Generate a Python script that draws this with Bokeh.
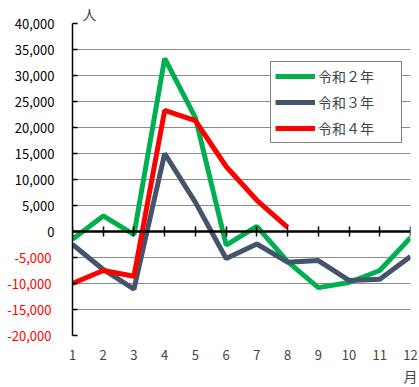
from bokeh.plotting import figure
from bokeh.models import (LinearAxis, FixedTicker, Range1d, Legend, LegendItem,
                          Title, CustomJSTickFormatter)
from bokeh.embed import file_html
from bokeh.resources import INLINE

months = [1, 2, 3, 4, 5, 6, 7, 8, 9, 10, 11, 12]
r2 = [-1500, 3000, -600, 33300, 21900, -2600, 1000, -5800, -10800, -9800, -7500, -1200]
r3 = [-2500, -7300, -11100, 15000, 5600, -5200, -2400, -5900, -5600, -9400, -9200, -4800]
months_r4 = [1, 2, 3, 4, 5, 6, 7, 8]
r4 = [-10000, -7500, -8600, 23300, 21300, 12500, 6000, 800]
series_names = ["令和２年", "令和３年", "令和４年"]
colors = ["#00B050", "#44546A", "#FF0000"]
y_ticks = [-20000, -15000, -10000, -5000, 0, 5000, 10000, 15000, 20000, 25000, 30000, 35000, 40000]
neg_ticks = [-20000, -15000, -10000, -5000]
grid_ticks = [-15000, -10000, -5000, 5000, 10000, 15000, 20000, 25000, 30000, 35000]

FONT = "Noto Sans CJK JP"
FS = "13px"
fmt = "return tick.toLocaleString('en-US');"

p = figure(width=419, height=387, output_backend="svg", toolbar_location=None,
           x_range=Range1d(1, 12), y_range=Range1d(-20000, 40000),
           min_border_left=72, min_border_right=9, min_border_top=23,
           min_border_bottom=52, outline_line_color=None)

# y axis: ticks for all, black labels for non-negative values
p.yaxis.ticker = FixedTicker(ticks=y_ticks)
p.yaxis.formatter = CustomJSTickFormatter(
    code="return tick < 0 ? '' : tick.toLocaleString('en-US');")
p.yaxis.major_tick_in = 5
p.yaxis.major_tick_out = 0
p.yaxis.minor_tick_line_color = None
p.yaxis.axis_line_color = "black"
p.yaxis.axis_line_width = 1.5
p.yaxis.major_tick_line_width = 1.5
p.yaxis.major_label_text_font = FONT
p.yaxis.major_label_text_font_size = FS
p.yaxis.major_label_text_color = "black"
p.yaxis.major_label_standoff = 18

# red labels for negative values (outer axis pulled back over the first one)
neg_axis = LinearAxis(ticker=FixedTicker(ticks=neg_ticks),
                      formatter=CustomJSTickFormatter(code=fmt),
                      axis_line_color=None, major_tick_line_color=None,
                      minor_tick_line_color=None,
                      major_tick_in=0, major_tick_out=0,
                      major_label_standoff=-40,
                      major_label_text_font=FONT, major_label_text_font_size=FS,
                      major_label_text_color="#FF0000")
p.add_layout(neg_axis, "left")

# x axis: labels only
p.xaxis.ticker = FixedTicker(ticks=months)
p.xaxis.axis_line_color = None
p.xaxis.major_tick_line_color = None
p.xaxis.minor_tick_line_color = None
p.xaxis.major_label_text_font = FONT
p.xaxis.major_label_text_font_size = FS
p.xaxis.major_label_standoff = 8

# grid
p.xgrid.grid_line_color = None
p.ygrid.ticker = FixedTicker(ticks=grid_ticks)
p.ygrid.grid_line_color = "#8c8c8c"
p.ygrid.grid_line_width = 1

l2 = p.line(months, r2, line_color=colors[0], line_width=5)
l3 = p.line(months, r3, line_color=colors[1], line_width=5)
l4 = p.line(months_r4, r4, line_color=colors[2], line_width=5)

# zero axis with ticks crossing
zero_axis = LinearAxis(ticker=FixedTicker(ticks=months), fixed_location=0,
                       formatter=CustomJSTickFormatter(code="return '';"),
                       major_tick_in=5, major_tick_out=5,
                       major_tick_line_width=1.5,
                       minor_tick_line_color=None,
                       axis_line_color="black", axis_line_width=2.5)
p.add_layout(zero_axis, "below")

legend = Legend(items=[LegendItem(label=series_names[0], renderers=[l2]),
                       LegendItem(label=series_names[1], renderers=[l3]),
                       LegendItem(label=series_names[2], renderers=[l4])],
                location=(198, 192), glyph_width=40, glyph_height=20,
                label_standoff=3, spacing=6, padding=4, margin=0,
                label_width=79,
                border_line_color="black", border_line_width=1.5,
                label_text_font=FONT, label_text_font_size="14px",
                background_fill_alpha=1)
p.add_layout(legend, "center")

p.add_layout(Title(text="人", align="left", offset=10, standoff=0,
                   text_line_height=1.0,
                   text_font=FONT, text_font_size="14px", text_font_style="normal"),
             "above")
p.add_layout(Title(text="月", align="right", offset=-7, standoff=2,
                   text_line_height=1.0,
                   text_font=FONT, text_font_size="14px", text_font_style="normal"),
             "below")

open("out.html", "w").write(file_html(p, INLINE))
